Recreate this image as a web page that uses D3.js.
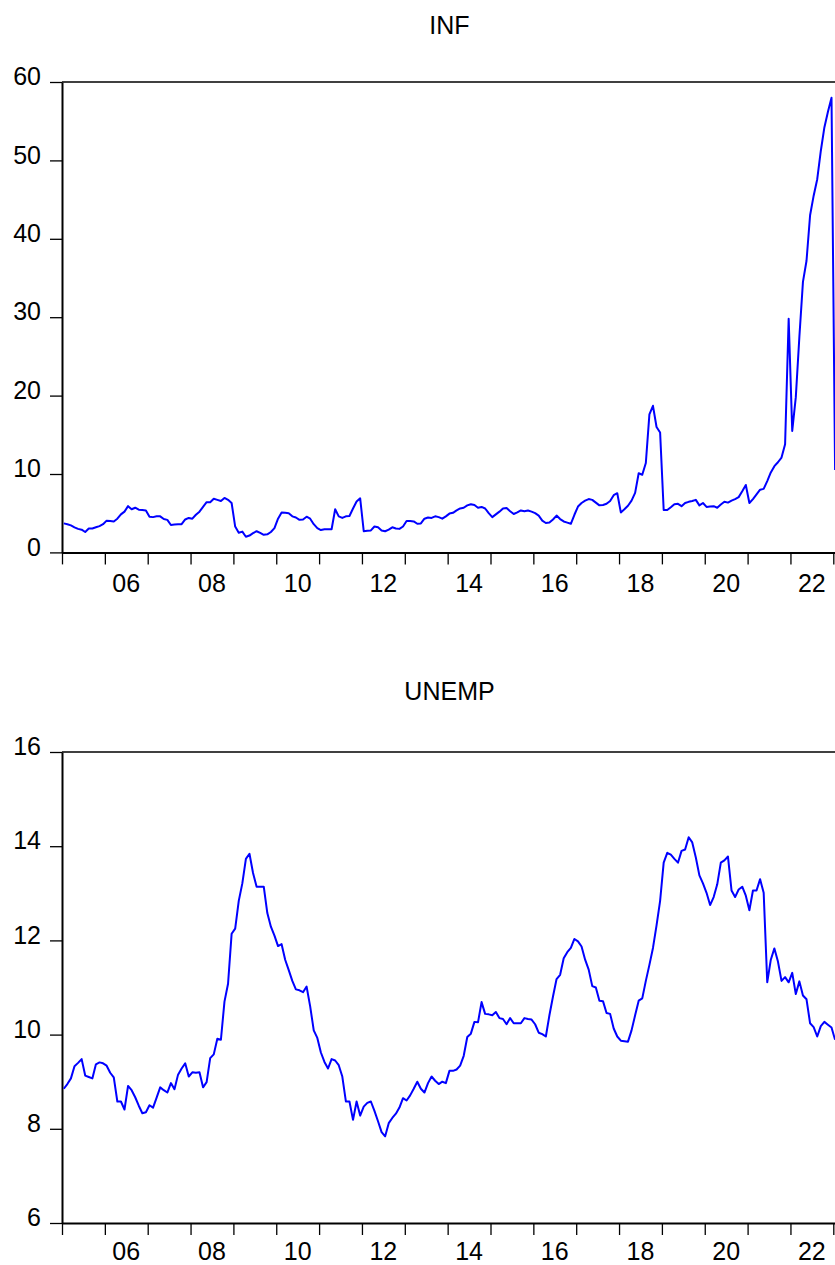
<!DOCTYPE html>
<html><head><meta charset="utf-8">
<script src="https://cdn.jsdelivr.net/npm/d3@7"></script>
<style>
body{margin:0;background:#fff}
svg{display:block}
text{font-family:Arial,"Liberation Sans",sans-serif;fill:#000}
</style>
</head><body>
<svg id="chart" width="835" height="1265"></svg>
<script>
// ---- data (monthly, 2005M01 - 2023M01) ----
const startYear = 2005;
const yearTicks = [2005,2006,2007,2008,2009,2010,2011,2012,2013,2014,2015,2016,2017,2018,2019,2020,2021,2022,2023];
const labelYears = [2006,2008,2010,2012,2014,2016,2018,2020,2022];
const xTickLabels = ["06","08","10","12","14","16","18","20","22"];
const infTicks = [0,10,20,30,40,50,60];
const unempTicks = [6,8,10,12,14,16];

const infValues = [
 3.7,3.6,3.45,3.2,3.0,2.9,2.6,3.05,3.05,3.2,3.35,3.6,
 4.05,4.0,3.95,4.3,4.85,5.2,5.9,5.5,5.7,5.45,5.4,5.35,
 4.55,4.5,4.6,4.6,4.25,4.15,3.5,3.55,3.6,3.6,4.2,4.4,
 4.3,4.8,5.2,5.8,6.4,6.4,6.85,6.7,6.55,6.95,6.7,6.3,
 3.3,2.5,2.65,2.0,2.15,2.45,2.7,2.5,2.25,2.3,2.6,3.1,
 4.3,5.1,5.05,5.0,4.6,4.45,4.15,4.2,4.55,4.3,3.6,3.1,
 2.85,2.95,2.95,2.95,5.5,4.6,4.4,4.6,4.65,5.6,6.5,6.9,
 2.7,2.75,2.8,3.3,3.2,2.8,2.7,2.9,3.2,3.05,3.0,3.3,
 4.0,4.0,3.95,3.65,3.7,4.3,4.45,4.4,4.6,4.5,4.3,4.6,
 4.95,5.05,5.35,5.6,5.7,6.0,6.15,6.05,5.7,5.8,5.6,5.0,
 4.5,4.85,5.2,5.6,5.65,5.25,4.9,5.1,5.35,5.25,5.35,5.2,
 5.0,4.7,4.05,3.75,3.8,4.2,4.7,4.25,3.95,3.8,3.65,4.8,
 5.85,6.3,6.6,6.8,6.7,6.35,6.0,6.05,6.2,6.55,7.3,7.55,
 5.1,5.5,5.95,6.6,7.6,10.1,9.9,11.4,17.6,18.7,16.0,15.3,
 5.4,5.4,5.75,6.15,6.2,5.9,6.3,6.45,6.55,6.7,6.0,6.3,
 5.8,5.85,5.9,5.7,6.1,6.45,6.35,6.6,6.8,7.05,7.8,8.6,
 6.3,6.8,7.4,8.0,8.1,9.1,10.2,11.0,11.5,12.1,13.8,29.8,
 15.5,19.8,27.5,34.5,37.2,43.0,45.5,47.6,51.2,54.2,56.2,58.0,
 10.5
];

const unempValues = [
 8.85,8.95,9.07,9.33,9.4,9.48,9.13,9.1,9.07,9.37,9.41,9.39,
 9.34,9.19,9.09,8.58,8.58,8.41,8.91,8.82,8.67,8.49,8.33,8.35,
 8.5,8.45,8.66,8.88,8.82,8.77,8.97,8.84,9.15,9.28,9.39,9.11,
 9.2,9.19,9.2,8.88,8.99,9.5,9.58,9.91,9.89,10.7,11.08,12.14,
 12.25,12.84,13.21,13.73,13.84,13.43,13.14,13.14,13.14,12.58,12.29,12.1,
 11.88,11.92,11.59,11.37,11.14,10.96,10.94,10.9,11.02,10.6,10.09,9.93,
 9.62,9.42,9.28,9.48,9.45,9.35,9.11,8.58,8.58,8.19,8.58,8.28,
 8.47,8.55,8.58,8.38,8.16,7.93,7.84,8.12,8.23,8.32,8.45,8.65,
 8.6,8.71,8.85,9.0,8.85,8.77,8.97,9.11,9.02,8.95,9.0,8.97,
 9.23,9.23,9.26,9.34,9.55,9.95,10.02,10.27,10.26,10.69,10.44,10.43,
 10.41,10.48,10.35,10.33,10.22,10.35,10.24,10.24,10.24,10.35,10.33,10.32,
 10.22,10.04,10.01,9.96,10.41,10.81,11.18,11.27,11.62,11.75,11.84,12.03,
 11.98,11.87,11.59,11.38,11.03,11.0,10.72,10.71,10.46,10.44,10.13,9.96,
 9.87,9.86,9.85,10.09,10.41,10.72,10.77,11.14,11.48,11.84,12.32,12.84,
 13.65,13.86,13.82,13.73,13.65,13.9,13.93,14.19,14.08,13.76,13.38,13.21,
 13.01,12.75,12.92,13.19,13.65,13.7,13.78,13.06,12.92,13.08,13.14,12.95,
 12.64,13.06,13.06,13.3,13.01,11.11,11.59,11.83,11.55,11.14,11.22,11.11,
 11.31,10.86,11.13,10.83,10.75,10.24,10.16,9.96,10.18,10.27,10.21,10.15,
 9.89
];

// ---- layout ----
const svg = d3.select("#chart");
const left = 62, rightEdge = 837;
const x = d3.scaleLinear().domain([2005, 2023]).range([62, 833.3]);
const tOf = i => startYear + (i + 0.5) / 12;

const panels = [
  {title:"INF", values:infValues, ticks:infTicks, domain:[0,60], top:82, bottom:552.4, titleY:34, labY:591.5},
  {title:"UNEMP", values:unempValues, ticks:unempTicks, domain:[6,16], top:752, bottom:1223, titleY:700, labY:1259.5}
];

panels.forEach(p => {
  const y = d3.scaleLinear().domain(p.domain).range([p.bottom, p.top]);
  const g = svg.append("g");

  // title
  g.append("text").attr("x", (left + rightEdge) / 2).attr("y", p.titleY)
    .attr("text-anchor", "middle").style("font-size", "25px").text(p.title);

  // top border
  g.append("line").attr("x1", left).attr("x2", 900).attr("y1", p.top).attr("y2", p.top)
    .attr("stroke", "#000").attr("stroke-width", 1.5);

  // y axis
  const ya = g.append("g").attr("transform", `translate(${left},0)`)
    .call(d3.axisLeft(y).tickValues(p.ticks).tickFormat(d3.format("d")).tickSize(12).tickSizeOuter(0).tickPadding(9));
  ya.select(".domain").attr("stroke", "#000").attr("stroke-width", 2);
  ya.selectAll(".tick line").attr("stroke", "#000").attr("stroke-width", 1.3);
  ya.selectAll(".tick text").attr("dy", "2.7px").style("font-size", "25px")
    .attr("font-family", null).attr("fill", "#000");

  // x axis
  const xa = g.append("g").attr("transform", `translate(0,${p.bottom})`)
    .call(d3.axisBottom(x).tickValues(yearTicks).tickFormat("").tickSize(12).tickSizeOuter(0));
  xa.select(".domain").attr("d", `M${left},0.5H900`).attr("stroke", "#000").attr("stroke-width", 2);
  xa.selectAll(".tick line").attr("stroke", "#000").attr("stroke-width", 1.3);

  g.selectAll(".xlab").data(labelYears).join("text")
    .attr("class", "xlab")
    .attr("x", d => x(d + 0.5)).attr("y", p.labY)
    .attr("text-anchor", "middle").style("font-size", "25px")
    .text((d, i) => xTickLabels[i]);

  // series line
  const line = d3.line().x((d, i) => x(tOf(i))).y(d => y(d));
  g.append("path").datum(p.values).attr("d", line)
    .attr("fill", "none").attr("stroke", "#0000ff").attr("stroke-width", 2)
    .attr("stroke-linejoin", "round");
});
</script>
</body></html>
